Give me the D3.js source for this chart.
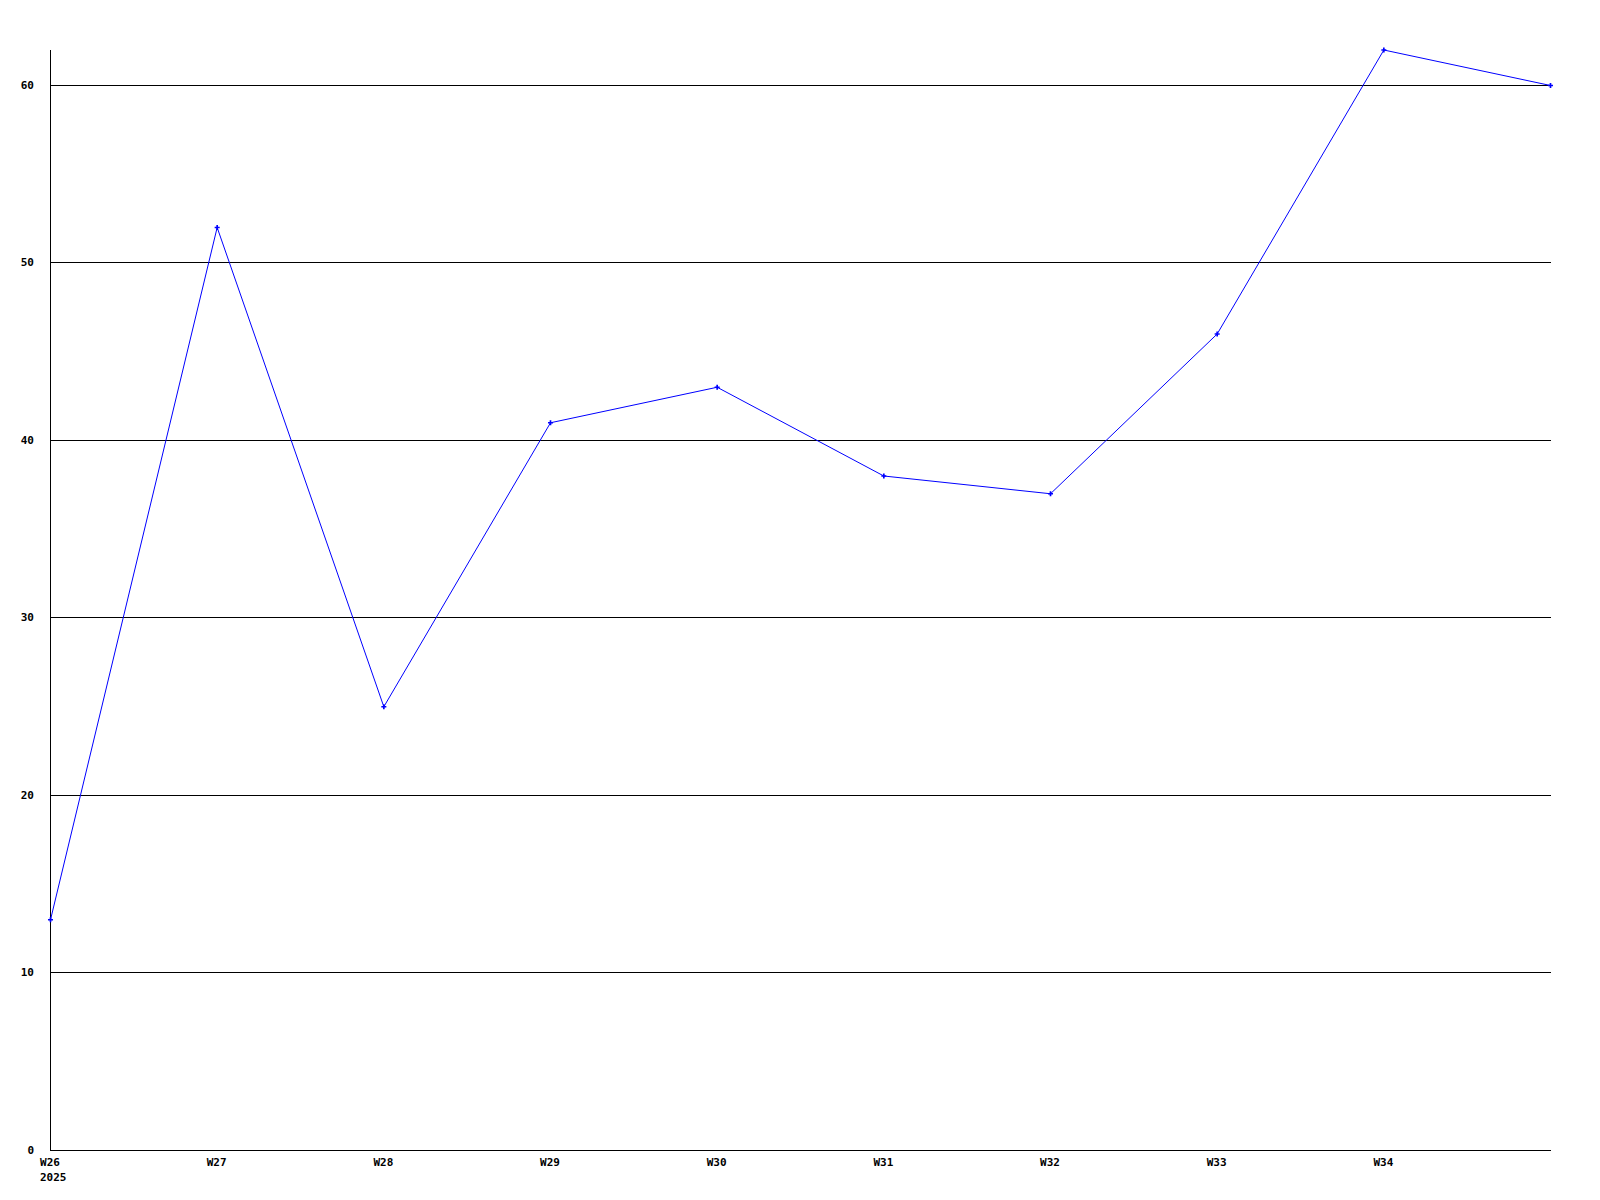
<!DOCTYPE html>
<html><head><meta charset="utf-8">
<script src="https://cdn.jsdelivr.net/npm/d3@7"></script>
<style>
body{margin:0;background:#fff;}
text{font-family:"DejaVu Sans Mono","Liberation Mono",monospace;font-weight:bold;font-size:11px;fill:#000;}
</style></head><body>
<script>
const weeks = ["W26","W27","W28","W29","W30","W31","W32","W33","W34","W35"];
const values = [13,52,25,41,43,38,37,46,62,60];
const tickLabels = ["W26","W27","W28","W29","W30","W31","W32","W33","W34"];
const yTicks = [0,10,20,30,40,50,60];
const yearLabel = "2025";

const W=1600,H=1200;
const svg=d3.select("body").append("svg").attr("width",W).attr("height",H);
const x=d3.scaleLinear().domain([0,weeks.length-1]).range([50,1550]);
const y=d3.scaleLinear().domain([0,60]).range([1150,85]);

// grid
svg.append("g").selectAll("line").data(yTicks.filter(d=>d>0)).join("line")
  .attr("x1",50).attr("x2",1551).attr("y1",d=>Math.floor(y(d))+0.5).attr("y2",d=>Math.floor(y(d))+0.5)
  .attr("stroke","#000").attr("stroke-width",1);
// axes
svg.append("line").attr("x1",50.5).attr("x2",50.5).attr("y1",50).attr("y2",1151).attr("stroke","#000");
svg.append("line").attr("x1",50).attr("x2",1551).attr("y1",1150.5).attr("y2",1150.5).attr("stroke","#000");

svg.append("g").selectAll("text").data(yTicks).join("text")
  .attr("x",34).attr("y",d=>y(d)).attr("text-anchor","end").attr("dominant-baseline","central").text(d=>d);

svg.append("g").selectAll("text").data(tickLabels).join("text")
  .attr("x",(d,i)=>x(i)).attr("y",1166).attr("text-anchor","middle").text(d=>d);
svg.append("text").attr("x",40).attr("y",1181).text(yearLabel);

const line=d3.line().x((d,i)=>x(i)+0.5).y(d=>y(d)+0.5);
svg.append("path").datum(values).attr("d",line).attr("fill","none").attr("stroke","#0000ff").attr("stroke-width",1);
svg.append("g").selectAll("path").data(values).join("path")
  .attr("transform",(d,i)=>`translate(${x(i)+0.5},${y(d)+0.5})`)
  .attr("d",d3.symbol(d3.symbolCross,14)()).attr("fill","#0000ff");
</script></body></html>
